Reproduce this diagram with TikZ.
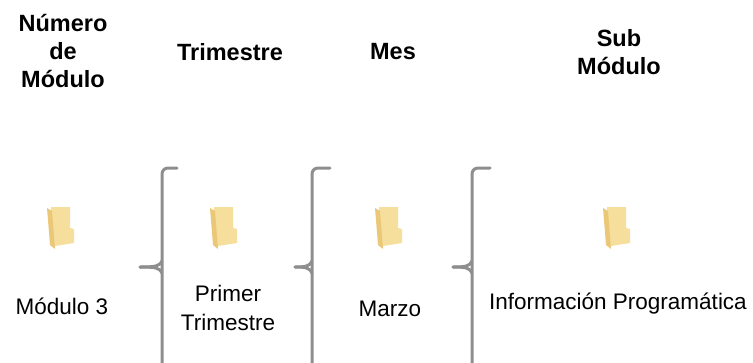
\documentclass[tikz,border=0pt]{standalone}
\usepackage{fontspec}
\setmainfont{Liberation Sans}
\usepackage{tikz}

\definecolor{bracegray}{HTML}{8E8E8E}
\definecolor{folderback}{HTML}{F6DE9C}
\definecolor{folderfront}{HTML}{EAC878}

\tikzset{
    header/.style={font=\fontsize{23.5}{28}\selectfont\bfseries, align=center},
    label/.style={font=\fontsize{22.5}{29}\selectfont, align=center},
    brace/.style={draw=bracegray, line width=3pt, rounded corners=6pt, line cap=round},
    tick/.style={draw=bracegray, line width=3pt, line cap=round}
}

\begin{document}
\begin{tikzpicture}[x=1pt,y=-1pt]
    \useasboundingbox (0,0) rectangle (753,362);
    % kopjes
    \node[header] (hmodulo) at (63,51) {Número\\de\\Módulo};
    \node[header] (htrim) at (230,52) {Trimestre};
    \node[header] (hmes) at (393,52) {Mes};
    \node[header] (hsub) at (619,52) {Sub\\Módulo};
    % mappen
    \foreach \cx/\n in {61/f1,224/f2,389/f3,617/f4}{
        \fill[folderback] (\cx-10,207) -- (\cx+9,207) -- (\cx+9,228) -- (\cx+13,229)
            -- (\cx+13,243) -- (\cx-6,246) -- (\cx-10,246) -- cycle;
        \fill[folderfront] (\cx-14,208) -- (\cx-9,211) -- (\cx-6,249) -- (\cx-11,245) -- cycle;
        \coordinate (\n) at (\cx,228);
    }
    % teksten
    \node[label] (modulo) at (62,306) {Módulo 3};
    \node[label] (trim) at (228,308) {Primer\\Trimestre};
    \node[label] (mes) at (390,309) {Marzo};
    \node[label] (sub) at (618,304) {Información Programática};
    % accolades
    \draw[brace] (177,168) -- (162,168) -- (162,368) -- (177,368);
    \draw[tick] (140,267) .. controls (156,267) and (160,266) .. (162,261);
    \draw[tick] (140,267) .. controls (156,267) and (160,268) .. (162,273);
    \draw[brace] (330,168) -- (312,168) -- (312,368) -- (330,368);
    \draw[tick] (295,267) .. controls (306,267) and (310,266) .. (312,261);
    \draw[tick] (295,267) .. controls (306,267) and (310,268) .. (312,273);
    \draw[brace] (490,168) -- (472,168) -- (472,368) -- (490,368);
    \draw[tick] (453,267) .. controls (466,267) and (470,266) .. (472,261);
    \draw[tick] (453,267) .. controls (466,267) and (470,268) .. (472,273);
\end{tikzpicture}
\end{document}
